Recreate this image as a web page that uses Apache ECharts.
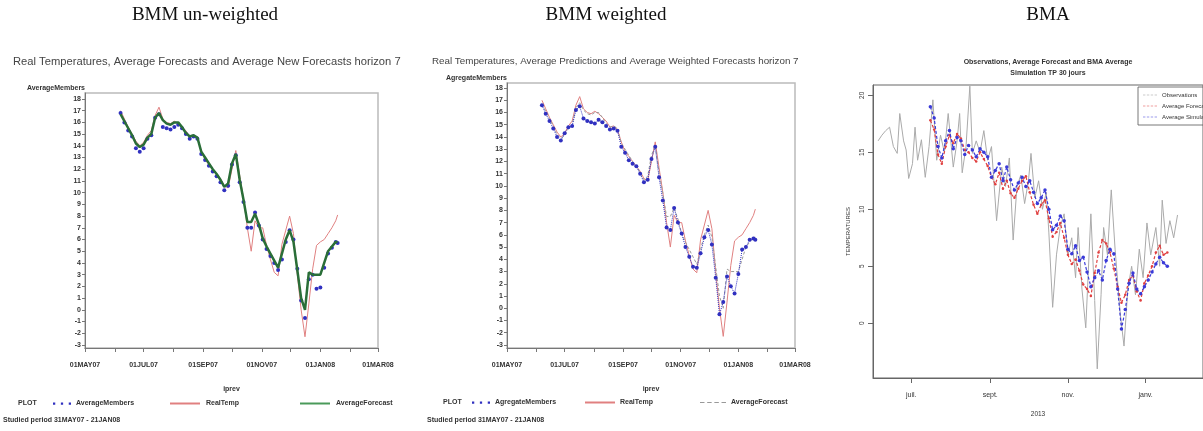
<!DOCTYPE html>
<html><head><meta charset="utf-8">
<script src="https://cdn.jsdelivr.net/npm/echarts@6/dist/echarts.min.js"></script>
<style>html,body{margin:0;padding:0;background:#fff}#c{width:1203px;height:431px}</style>
</head><body><div id="c"></div>
<script>
// ---------- Panels 1 & 2 (SAS, BMM) ----------
const sasDates = ['2007-06-07','2007-06-11','2007-06-15','2007-06-19','2007-06-23','2007-06-27',
 '2007-07-01','2007-07-05','2007-07-09','2007-07-13','2007-07-17','2007-07-21','2007-07-25','2007-07-29',
 '2007-08-02','2007-08-06','2007-08-10','2007-08-14','2007-08-18','2007-08-22','2007-08-26','2007-08-30',
 '2007-09-03','2007-09-07','2007-09-11','2007-09-15','2007-09-19','2007-09-23','2007-09-27',
 '2007-10-01','2007-10-05','2007-10-09','2007-10-13','2007-10-17','2007-10-21','2007-10-25','2007-10-29',
 '2007-11-02','2007-11-06','2007-11-10','2007-11-14','2007-11-18','2007-11-22','2007-11-26','2007-11-30',
 '2007-12-04','2007-12-08','2007-12-12','2007-12-16','2007-12-20','2007-12-24','2007-12-28',
 '2008-01-01','2008-01-05','2008-01-09','2008-01-13','2008-01-17','2008-01-19'];
const realTemp = [17.0,16.3,15.6,15.0,14.4,14.0, 14.3,14.9,15.3,16.6,17.3,16.3,16.0,15.9,
 16.1,15.9,15.6,15.3,14.8,14.9,14.6,13.6, 12.8,12.4,12.0,11.6,11.2,10.6,10.4,
 12.0,13.6,11.5,9.5,7.0,5.0,7.6,7.0, 7.0,5.5,4.3,3.2,2.9,5.6,6.8,8.0,
 6.5,3.0,0.0,-2.3,0.5,3.5,5.5, 5.8,6.0,6.5,7.0,7.6,8.1];
const averageMembers = [16.8,16.0,15.3,14.8,13.8,13.5, 13.8,14.6,14.9,16.4,16.7,15.6,15.5,15.4,
 15.6,15.8,15.5,15.0,14.6,14.8,14.6,13.3, 12.8,12.3,11.8,11.4,10.9,10.2,10.6,
 12.4,13.2,10.9,9.2,7.0,7.0,8.3,7.2, 6.0,5.2,4.6,4.0,3.4,4.3,5.8,6.8,
 6.0,3.5,0.8,-0.7,2.6,3.0,1.8, 1.9,3.6,4.8,5.3,5.8,5.7];
const averageForecast = [16.7,16.1,15.5,14.9,14.2,13.9, 14.1,14.7,15.0,16.4,16.8,16.2,15.9,15.8,
 16.0,16.0,15.6,15.1,14.8,14.9,14.7,13.5, 13.0,12.5,12.0,11.6,11.1,10.5,10.8,
 12.5,13.3,11.1,9.4,7.5,7.5,8.2,7.3, 6.1,5.4,4.8,4.2,3.6,4.8,6.0,6.8,
 5.8,3.4,1.0,0.0,3.2,3.0,3.0, 3.0,4.0,5.0,5.4,5.8,5.8];
const agregateMembers = [16.6,15.9,15.3,14.7,14.0,13.7, 14.3,14.8,14.9,16.2,16.5,15.5,15.3,15.2,
 15.1,15.4,15.2,14.9,14.6,14.7,14.5,13.2, 12.7,12.1,11.8,11.6,11.0,10.3,10.5,
 12.2,13.2,10.7,8.8,6.6,6.4,8.2,7.0, 6.1,5.0,4.2,3.4,3.3,4.5,5.8,6.4,
 5.2,2.5,-0.5,0.5,2.6,1.8,1.2, 2.8,4.8,5.0,5.6,5.7,5.6];
const sasTickDates = ['2007-05-01','2007-06-01','2007-07-01','2007-08-01','2007-09-01','2007-10-01',
 '2007-11-01','2007-12-01','2008-01-01','2008-02-01','2008-03-01'];
const sasLabelDates = ['2007-05-01','2007-07-01','2007-09-01','2007-11-01','2008-01-01','2008-03-01'];
const sasLabels = ['01MAY07','01JUL07','01SEP07','01NOV07','01JAN08','01MAR08'];
const sasYTicks = [-3,-2,-1,0,1,2,3,4,5,6,7,8,9,10,11,12,13,14,15,16,17,18];

// ---------- Panel 3 (R, BMA) ----------
const obsDates = ['2013-06-05','2013-06-08','2013-06-11','2013-06-14','2013-06-17','2013-06-20','2013-06-22','2013-06-25','2013-06-27','2013-06-29',
 '2013-07-02','2013-07-04','2013-07-06','2013-07-09','2013-07-12','2013-07-15','2013-07-18','2013-07-21','2013-07-24','2013-07-27','2013-07-30',
 '2013-08-03','2013-08-06','2013-08-08','2013-08-10','2013-08-13','2013-08-16','2013-08-18','2013-08-21','2013-08-24','2013-08-27','2013-08-30',
 '2013-09-02','2013-09-06','2013-09-10','2013-09-13','2013-09-16','2013-09-19','2013-09-22','2013-09-25','2013-09-28',
 '2013-10-01','2013-10-03','2013-10-06','2013-10-09','2013-10-12','2013-10-15','2013-10-17','2013-10-20','2013-10-23','2013-10-26','2013-10-29',
 '2013-11-01','2013-11-04','2013-11-07','2013-11-09','2013-11-12','2013-11-15','2013-11-19','2013-11-22','2013-11-24','2013-11-27','2013-11-29',
 '2013-12-02','2013-12-05','2013-12-08','2013-12-12','2013-12-15','2013-12-18','2013-12-21','2013-12-24','2013-12-27','2013-12-30',
 '2014-01-02','2014-01-05','2014-01-09','2014-01-12','2014-01-14','2014-01-17','2014-01-20','2014-01-23','2014-01-26'];
const obsValues = [16.0,16.5,16.9,17.2,15.5,14.9,18.4,16.0,15.2,12.7,
 14.0,17.2,14.3,16.1,12.8,15.5,19.6,14.3,16.5,15.0,18.4,
 13.7,16.0,18.4,13.2,15.5,20.8,14.9,16.0,15.0,16.9,14.3,
 15.5,9.0,13.7,12.0,14.5,7.3,12.0,13.0,10.5,
 12.5,14.9,11.0,12.5,10.0,11.5,8.0,1.4,6.0,8.5,9.6,
 6.0,7.5,4.0,8.4,3.0,-0.4,9.6,2.0,-4.0,2.5,8.4,
 6.0,11.7,6.5,0.9,-2.0,3.0,5.0,2.5,6.5,4.0,
 8.8,6.0,8.4,5.0,10.8,7.0,9.0,7.5,9.5];
const simDates = ['2013-07-16','2013-07-19','2013-07-22','2013-07-25','2013-07-28','2013-07-31',
 '2013-08-03','2013-08-06','2013-08-09','2013-08-12','2013-08-15','2013-08-18','2013-08-21','2013-08-24','2013-08-27','2013-08-30',
 '2013-09-02','2013-09-05','2013-09-08','2013-09-11','2013-09-14','2013-09-17','2013-09-20','2013-09-23','2013-09-26','2013-09-29',
 '2013-10-02','2013-10-05','2013-10-08','2013-10-11','2013-10-14','2013-10-17','2013-10-20','2013-10-23','2013-10-26','2013-10-29',
 '2013-11-01','2013-11-04','2013-11-07','2013-11-10','2013-11-13','2013-11-16','2013-11-19','2013-11-22','2013-11-25','2013-11-28',
 '2013-12-01','2013-12-04','2013-12-07','2013-12-10','2013-12-13','2013-12-16','2013-12-19','2013-12-22','2013-12-25','2013-12-28','2013-12-31',
 '2014-01-03','2014-01-06','2014-01-09','2014-01-12','2014-01-15','2014-01-18'];
const avgSimulation = [19.0,18.0,15.5,14.5,16.0,16.9,
 15.3,16.3,16.0,14.8,15.6,15.2,14.6,15.3,15.0,14.6,
 12.8,13.4,14.0,12.5,13.7,12.6,11.7,12.3,12.8,12.0,
 12.5,11.5,10.5,11.0,11.7,10.0,8.2,8.6,9.4,9.0,
 6.5,6.1,6.8,5.5,5.8,4.5,3.2,4.0,4.6,3.8,
 5.5,6.5,6.1,3.0,-0.5,1.2,3.5,4.4,3.0,2.6,3.2,
 3.8,4.5,5.2,5.8,5.3,5.0];
const avgForecastBMA = [17.8,17.0,14.8,14.0,15.5,16.5,
 15.8,16.6,16.2,15.2,15.0,14.5,14.2,15.0,14.4,13.8,
 12.8,12.2,13.2,11.8,12.5,11.4,11.0,11.8,12.5,12.9,
 11.5,10.4,9.6,10.4,10.8,9.2,7.6,8.0,8.8,7.5,
 6.0,5.2,5.6,4.6,3.4,3.0,2.4,4.4,6.2,7.3,
 7.0,6.2,4.8,3.2,1.8,2.5,3.8,4.2,2.8,2.0,3.5,
 4.2,5.0,6.2,6.8,6.0,6.2];
const bmaTickDates = ['2013-07-01','2013-09-01','2013-11-01','2014-01-01'];
const bmaTickLabels = ['juil.','sept.','nov.','janv.'];
const bmaYTicks = [0,5,10,15,20];

function ts(s){const p=s.split('-');return new Date(+p[0],+p[1]-1,+p[2]).getTime();}
function pairs(d,v){return d.map((x,i)=>[ts(x),v[i]]);}
const sasTickTs = sasTickDates.map(ts), sasLabelTs = sasLabelDates.map(ts), bmaTickTs = bmaTickDates.map(ts);

const tickFont = {fontSize:7,fontWeight:'bold',color:'#333'};
function nearest(arr,v){let b=-1,d=Infinity;arr.forEach((a,i)=>{const e=Math.abs(a-v);if(e<d){d=e;b=i;}});return d<86400000?b:-1;}
function sasX(g){
  return {type:'value',gridIndex:g,min:ts('2007-05-01'),max:ts('2008-03-01'),
    axisLine:{show:true,onZero:false,lineStyle:{color:'#777',width:1}},
    axisTick:{show:true,customValues:sasTickTs,length:4,lineStyle:{color:'#777'}},
    axisLabel:Object.assign({customValues:sasLabelTs,margin:14,showMinLabel:true,showMaxLabel:true,hideOverlap:false,
      formatter:v=>{const i=nearest(sasLabelTs,v);return i>=0?sasLabels[i]:'';}},tickFont),
    splitLine:{show:false},name:'iprev',nameLocation:'middle',nameGap:38,nameTextStyle:tickFont};
}
function sasY(g,name,min,max){
  return {type:'value',gridIndex:g,min:min,max:max,
    axisLine:{show:true,onZero:false,lineStyle:{color:'#777',width:1}},
    axisTick:{show:true,customValues:sasYTicks,length:3,lineStyle:{color:'#777'}},
    axisLabel:Object.assign({customValues:sasYTicks,margin:4},tickFont),
    splitLine:{show:false},name:name,nameLocation:'end',nameGap:1,
    nameTextStyle:Object.assign({align:'right',verticalAlign:'bottom'},tickFont)};
}
const membersIcon='path://M0,1h2v2h-2z M7,1h2v2h-2z M14,1h2v2h-2z';
const lineIcon='path://M0,0h30v2h-30z';
const dashIcon='path://M0,0h5v1h-5z M8,0h5v1h-5z M16,0h5v1h-5z M24,0h5v1h-5z';
const legFont={fontSize:7,fontWeight:'bold',color:'#333'};
const stripTag = n => n.split(' [')[0];
function leg(left,top,name,icon,color,w,h){
  return {left:left,top:top,padding:0,itemWidth:w,itemHeight:h,itemGap:4,selectedMode:false,textStyle:legFont,formatter:stripTag,
    data:[{name:name,icon:icon,itemStyle:{color:color,borderColor:color,borderWidth:0,opacity:1}}]};
}

const chart = echarts.init(document.getElementById('c'));
chart.setOption({
  animation:false,
  textStyle:{fontFamily:'Liberation Sans'},
  title:[
    {text:'BMM un-weighted',left:200,top:1,textAlign:'center',textStyle:{fontFamily:'Liberation Serif',fontSize:19,fontWeight:'normal',color:'#111'}},
    {text:'BMM weighted',left:601,top:1,textAlign:'center',textStyle:{fontFamily:'Liberation Serif',fontSize:19,fontWeight:'normal',color:'#111'}},
    {text:'BMA',left:1043,top:1,textAlign:'center',textStyle:{fontFamily:'Liberation Serif',fontSize:19,fontWeight:'normal',color:'#111'}},
    {text:'Real Temperatures, Average Forecasts and Average New Forecasts horizon 7',left:8,top:51,textStyle:{fontSize:11.2,fontWeight:'normal',color:'#444'}},
    {text:'Real Temperatures, Average Predictions and Average Weighted Forecasts horizon 7',left:427,top:51,textStyle:{fontSize:9.8,fontWeight:'normal',color:'#444'}},
    {text:'Observations, Average Forecast and BMA Average\nSimulation TP 30 jours',left:1043,top:52,textAlign:'center',textStyle:{fontSize:7,fontWeight:'bold',lineHeight:11,color:'#333'}}
  ],
  grid:[
    {left:85,top:93,width:293,height:255,show:true,borderColor:'#bbb',borderWidth:1.5,backgroundColor:'transparent'},
    {left:507,top:83,width:288,height:265,show:true,borderColor:'#bbb',borderWidth:1.5,backgroundColor:'transparent'},
    {left:873,top:85,width:370,height:293,show:true,borderColor:'#666',borderWidth:1,backgroundColor:'transparent'}
  ],
  xAxis:[sasX(0),sasX(1),
    {type:'value',gridIndex:2,min:ts('2013-06-01'),max:ts('2014-02-15'),
     axisLine:{show:true,onZero:false,lineStyle:{color:'#666'}},
     axisTick:{show:true,customValues:bmaTickTs,length:5,lineStyle:{color:'#666'}},
     axisLabel:{customValues:bmaTickTs,margin:14,fontSize:7,color:'#333',showMinLabel:true,showMaxLabel:true,hideOverlap:false,
       formatter:v=>{const i=nearest(bmaTickTs,v);return i>=0?bmaTickLabels[i]:'';}},
     splitLine:{show:false},name:'2013',nameLocation:'middle',nameGap:33,nameTextStyle:{fontSize:6.5,color:'#333'}}],
  yAxis:[sasY(0,'AverageMembers',-3.26,18.51),sasY(1,'AgregateMembers',-3.25,18.41),
    {type:'value',gridIndex:2,min:-4.8,max:20.9,
     axisLine:{show:true,onZero:false,lineStyle:{color:'#666'}},
     axisTick:{show:true,customValues:bmaYTicks,length:5,lineStyle:{color:'#666'}},
     axisLabel:{customValues:bmaYTicks,rotate:90,margin:7,fontSize:6.5,color:'#333'},
     splitLine:{show:false},name:'TEMPERATURES',nameLocation:'middle',nameRotate:90,nameGap:22,nameTextStyle:{fontSize:6,color:'#333'}}],
  legend:[
    leg(53,400,'AverageMembers',membersIcon,'#3030c0',18,3),
    leg(170,400,'RealTemp',lineIcon,'#e08080',32,2),
    leg(300,400,'AverageForecast',lineIcon,'#4a9a5a',32,2),
    leg(472,399,'AgregateMembers',membersIcon,'#3030c0',18,3),
    leg(585,399,'RealTemp [w]',lineIcon,'#e08080',30,2),
    leg(700,399,'AverageForecast [w]',dashIcon,'#999',26,1),
    {left:1138,top:87,orient:'vertical',itemGap:5,itemWidth:14,itemHeight:1,selectedMode:false,
     padding:[5,40,5,5],borderColor:'#555',borderWidth:0.8,textStyle:{fontSize:6,color:'#333'},
     data:[{name:'Observations',icon:dashIcon,itemStyle:{color:'#999'}},
           {name:'Average Forecast',icon:dashIcon,itemStyle:{color:'#e04040'}},
           {name:'Average Simulation',icon:dashIcon,itemStyle:{color:'#3a3ad8'}}]}
  ],
  graphic:[
    {type:'text',left:18,top:400,style:{text:'PLOT',font:'bold 7px Liberation Sans',fill:'#333'}},
    {type:'text',left:443,top:399,style:{text:'PLOT',font:'bold 7px Liberation Sans',fill:'#333'}},
    {type:'text',left:3,top:417,style:{text:'Studied period 31MAY07 - 21JAN08',font:'bold 7px Liberation Sans',fill:'#333'}},
    {type:'text',left:427,top:417,style:{text:'Studied period 31MAY07 - 21JAN08',font:'bold 7px Liberation Sans',fill:'#333'}}
  ],
  series:[
    {name:'RealTemp',type:'line',xAxisIndex:0,yAxisIndex:0,data:pairs(sasDates,realTemp),showSymbol:false,lineStyle:{color:'#e08080',width:1},itemStyle:{color:'#e08080'},z:1},
    {name:'AverageMembers',type:'line',xAxisIndex:0,yAxisIndex:0,data:pairs(sasDates,averageMembers),symbol:'circle',symbolSize:4,lineStyle:{opacity:0},itemStyle:{color:'#3030c0'},z:2},
    {name:'AverageForecast',type:'line',xAxisIndex:0,yAxisIndex:0,data:pairs(sasDates,averageForecast),showSymbol:false,lineStyle:{color:'#2a6e38',width:2.5},itemStyle:{color:'#2a6e38'},z:3},
    {name:'RealTemp [w]',type:'line',xAxisIndex:1,yAxisIndex:1,data:pairs(sasDates,realTemp),showSymbol:false,lineStyle:{color:'#e08080',width:1},itemStyle:{color:'#e08080'},z:1},
    {name:'AverageForecast [w]',type:'line',xAxisIndex:1,yAxisIndex:1,data:pairs(sasDates,averageForecast),showSymbol:false,lineStyle:{color:'#999',width:1,type:[3,2]},itemStyle:{color:'#999'},z:2},
    {name:'AgregateMembers',type:'line',xAxisIndex:1,yAxisIndex:1,data:pairs(sasDates,agregateMembers),symbol:'circle',symbolSize:4,lineStyle:{color:'#3030c0',width:1,type:'dotted'},itemStyle:{color:'#3030c0'},z:3},
    {name:'Observations',type:'line',xAxisIndex:2,yAxisIndex:2,data:pairs(obsDates,obsValues),showSymbol:false,lineStyle:{color:'#aaa',width:1},itemStyle:{color:'#aaa'},z:1},
    {name:'Average Forecast',type:'line',xAxisIndex:2,yAxisIndex:2,data:pairs(simDates,avgForecastBMA),symbol:'circle',symbolSize:2.5,lineStyle:{color:'#e04040',width:1.2,type:[3,2]},itemStyle:{color:'#e04040'},z:2},
    {name:'Average Simulation',type:'line',xAxisIndex:2,yAxisIndex:2,data:pairs(simDates,avgSimulation),symbol:'circle',symbolSize:3.5,lineStyle:{color:'#3a3ad8',width:1.2,type:[3,2]},itemStyle:{color:'#3a3ad8'},z:3}
  ]
});
</script></body></html>
